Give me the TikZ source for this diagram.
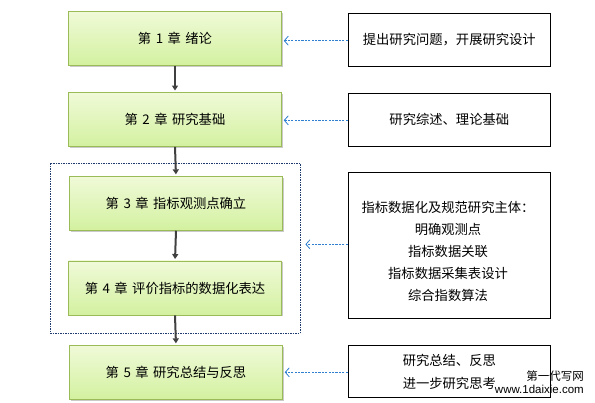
\documentclass[tikz,border=0pt]{standalone}
\usepackage{fontspec}
\setmainfont{Noto Sans CJK SC}
\usetikzlibrary{arrows.meta,shadows}
\definecolor{gborder}{HTML}{9BBB59}
\definecolor{gtop}{HTML}{F0FAD8}
\definecolor{gbot}{HTML}{D3F1A0}
\definecolor{bluearr}{HTML}{2F80D0}
\definecolor{frameblue}{HTML}{1F3A6E}
\definecolor{darkarr}{HTML}{404040}
\newcommand{\chsp}{\hspace{4.5pt}}
\tikzset{
  chap/.style={draw=gborder, line width=0.9pt, top color=gtop, bottom color=gbot,
    minimum width=213pt, minimum height=54pt, inner sep=0pt,
    font=\fontsize{13.3}{16}\selectfont,
    drop shadow={shadow xshift=1.5pt, shadow yshift=-1.5pt, opacity=0.35, fill=black!60}},
  infobox/.style={draw=black, line width=0.9pt, fill=white, minimum width=202pt,
    inner sep=0pt, font=\fontsize{13.3}{22.5}\selectfont, align=center},
  flowarr/.style={draw=darkarr, line width=2pt, -{Triangle[length=5pt,width=6pt]}, shorten >=1.5pt},
  refarr/.style={draw=bluearr, line width=0.8pt, dash pattern=on 2.2pt off 1.2pt,
    -{Straight Barb[length=4pt,width=9pt,line width=0.8pt]}},
  group/.style={draw=frameblue, line width=0.8pt, dash pattern=on 1.5pt off 1pt,
    minimum width=250pt, minimum height=170pt, inner sep=0pt},
  wm/.style={font=\fontsize{11.5}{13}\selectfont, inner sep=0pt}
}
\begin{document}
\begin{tikzpicture}[x=1pt,y=-1pt]
\useasboundingbox (0,0) rectangle (595,403);
\node[group] (grp) at (175,248.3) {};
\node[chap] (c1) at (175,38.3) {第\chsp 1\chsp 章\chsp 绪论};
\node[chap] (c2) at (175,119.5) {第\chsp 2\chsp 章\chsp 研究基础};
\node[chap] (c3) at (176,203.3) {第\chsp 3\chsp 章\chsp 指标观测点确立};
\node[chap] (c4) at (175,288) {第\chsp 4\chsp 章\chsp 评价指标的数据化表达};
\node[chap] (c5) at (176,372.3) {第\chsp 5\chsp 章\chsp 研究总结与反思};

\node[infobox, minimum height=53pt] (r1) at (449.3,39.8) {提出研究问题，开展研究设计};
\node[infobox, minimum height=53pt] (r2) at (449.3,119.8) {研究综述、理论基础};
\node[infobox, minimum height=146pt] (r3) at (449.3,245.3) {};
\node[font=\fontsize{13.3}{22.2}\selectfont, align=center, inner sep=0pt] (r3t) at (448,251.5)
  {指标数据化及规范研究主体：\\明确观测点\\指标数据关联\\指标数据采集表设计\\综合指数算法};
\node[infobox, minimum height=51.6pt, font=\fontsize{13.3}{23}\selectfont] (r4) at (449.3,371.5)
  {研究总结、反思\\进一步研究思考};

\draw[flowarr] (c1.south) -- (c2.north);
\draw[flowarr] (c2.south) -- (c3.north);
\draw[flowarr] (c3.south) -- (c4.north);
\draw[flowarr] (c4.south) -- (c5.north);

\draw[refarr, shorten >=1.8pt] (r1.west |- 0,40.7) -- (c1.east |- 0,40.7);
\draw[refarr, shorten >=1.8pt] (r2.west |- 0,120.3) -- (c2.east |- 0,120.3);
\draw[refarr, shorten >=5pt] (r3.west |- 0,244.3) -- (grp.east |- 0,244.3);
\draw[refarr, shorten >=1.8pt] (r4.west |- 0,372.3) -- (c5.east |- 0,372.3);

\node[wm, anchor=east] (wm1) at (584,376) {第一代写网};
\node[wm, anchor=east, font=\fontsize{11.5}{13}\selectfont\fontspec{Liberation Sans}] (wm2) at (584,389.5) {www.1daixie.com};
\end{tikzpicture}
\end{document}
